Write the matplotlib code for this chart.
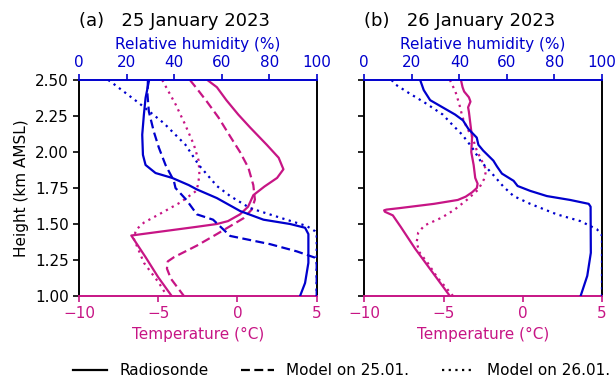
import matplotlib
matplotlib.use("Agg")
import matplotlib.pyplot as plt
import numpy as np
from matplotlib.lines import Line2D

MAG = "#c71585"
BLU = "#0000cd"

# ---------------- Panel (a): 25 January 2023 ----------------
a_rs_T_h = [2.50, 2.45, 2.36, 2.26, 2.17, 2.05, 1.96, 1.88, 1.82, 1.76, 1.70, 1.62, 1.567, 1.52, 1.50, 1.48, 1.42, 1.27, 1.13, 1.00]
a_rs_T   = [-1.9, -1.3, -0.7, 0.05, 0.8, 1.85, 2.6, 2.9, 2.5, 1.7, 1.0, 0.67, 0.16, -0.6, -1.3, -2.6, -6.7, -5.8, -5.0, -4.15]

a_m25_T_h = [2.50, 2.44, 2.35, 2.24, 2.11, 2.00, 1.89, 1.77, 1.67, 1.60, 1.54, 1.43, 1.35, 1.27, 1.24, 1.19, 1.12, 1.00]
a_m25_T   = [-3.0, -2.56, -1.93, -1.2, -0.47, 0.16, 0.69, 1.0, 1.1, 0.9, 0.38, -1.3, -2.56, -4.0, -4.4, -4.45, -4.2, -3.38]

a_m26_T_h = [2.50, 2.33, 2.19, 2.05, 1.94, 1.84, 1.77, 1.73, 1.65, 1.57, 1.51, 1.46, 1.40, 1.23, 1.09, 1.00]
a_m26_T   = [-4.75, -3.9, -3.3, -2.75, -2.45, -2.4, -2.5, -2.6, -3.6, -4.9, -5.9, -6.4, -6.55, -5.9, -4.95, -4.45]

a_rs_RH_h = [2.50, 2.375, 2.26, 2.12, 1.98, 1.91, 1.854, 1.82, 1.77, 1.74, 1.68, 1.59, 1.53, 1.50, 1.474, 1.43, 1.23, 1.09, 1.00]
a_rs_RH   = [29.5, 28.0, 27.3, 26.6, 26.9, 28.0, 32.2, 39.2, 46.2, 49.6, 58.0, 67.8, 77.6, 88.8, 95.1, 96.5, 96.5, 95.1, 93.0]

a_m25_RH_h = [2.50, 2.40, 2.28, 2.14, 2.03, 1.91, 1.80, 1.75, 1.667, 1.567, 1.53, 1.417, 1.36, 1.31, 1.266, 1.25, 1.00]
a_m25_RH   = [29.0, 28.8, 29.4, 31.5, 33.6, 36.4, 39.9, 40.6, 45.2, 49.6, 56.4, 63.6, 80.4, 91.6, 99.3, 100.0, 100.0]

a_m26_RH_h = [2.50, 2.48, 2.34, 2.20, 2.05, 1.91, 1.764, 1.694, 1.61, 1.544, 1.486, 1.45, 1.43, 1.00]
a_m26_RH   = [12.3, 14.0, 25.2, 35.7, 44.8, 50.4, 58.0, 63.6, 72.0, 84.6, 95.8, 99.3, 100.0, 100.0]

# ---------------- Panel (b): 26 January 2023 ----------------
b_rs_T_h = [2.50, 2.45, 2.42, 2.38, 2.35, 2.31, 2.28, 2.19, 2.10, 2.00, 1.91, 1.82, 1.78, 1.75, 1.72, 1.69, 1.667, 1.64, 1.61, 1.60, 1.595, 1.585, 1.56, 1.48, 1.33, 1.18, 1.00]
b_rs_T   = [-3.9, -3.8, -3.7, -3.4, -3.3, -3.45, -3.4, -3.3, -3.2, -3.25, -3.1, -3.0, -2.85, -2.9, -3.2, -3.6, -4.1, -5.6, -7.8, -8.6, -8.75, -8.7, -8.2, -7.7, -6.8, -5.8, -4.6]

b_m26_T_h = [2.50, 2.42, 2.33, 2.24, 2.16, 2.11, 2.01, 1.92, 1.875, 1.81, 1.74, 1.67, 1.60, 1.545, 1.49, 1.44, 1.37, 1.30, 1.23, 1.13, 1.00]
b_m26_T   = [-4.6, -4.25, -4.0, -3.8, -3.5, -3.2, -2.9, -2.5, -2.3, -2.45, -2.8, -3.5, -4.3, -5.1, -6.2, -6.6, -6.7, -6.5, -6.0, -5.4, -4.4]

b_rs_RH_h = [2.50, 2.43, 2.36, 2.32, 2.26, 2.22, 2.16, 2.10, 2.05, 2.01, 1.94, 1.90, 1.85, 1.80, 1.764, 1.73, 1.694, 1.667, 1.64, 1.62, 1.30, 1.14, 1.00]
b_rs_RH   = [23.5, 25.0, 27.7, 31.9, 38.2, 41.5, 43.8, 47.3, 48.0, 50.0, 54.3, 55.8, 57.9, 62.8, 64.5, 69.8, 76.8, 86.6, 94.4, 95.2, 95.3, 93.8, 91.0]

b_m26_RH_h = [2.50, 2.47, 2.41, 2.34, 2.26, 2.19, 2.12, 2.03, 1.935, 1.84, 1.76, 1.694, 1.64, 1.567, 1.52, 1.463, 1.42, 1.00]
b_m26_RH   = [11.5, 13.0, 18.7, 25.7, 33.0, 37.0, 41.2, 45.4, 49.0, 54.3, 58.5, 62.8, 69.8, 81.0, 90.9, 97.9, 100.0, 100.0]

titles = ["(a)   25 January 2023", "(b)   26 January 2023"]
y_ticks = [1.00, 1.25, 1.50, 1.75, 2.00, 2.25, 2.50]
t_ticks = [-10, -5, 0, 5]
rh_ticks = [0, 20, 40, 60, 80, 100]
legend_labels = ["Radiosonde", "Model on 25.01.", "Model on 26.01."]

plt.rcParams["font.family"] = "DejaVu Sans"
plt.rcParams["font.size"] = 11

fig = plt.figure(figsize=(6.15, 3.76), dpi=100)
LW = 1.6
dot = (0, (1, 2))
dash = (0, (4, 2))

panels = [
    dict(left=79 / 615, T=[(a_rs_T, a_rs_T_h, "-"), (a_m25_T, a_m25_T_h, dash), (a_m26_T, a_m26_T_h, dot)],
         RH=[(a_rs_RH, a_rs_RH_h, "-"), (a_m25_RH, a_m25_RH_h, dash), (a_m26_RH, a_m26_RH_h, dot)]),
    dict(left=364.3 / 615, T=[(b_rs_T, b_rs_T_h, "-"), (b_m26_T, b_m26_T_h, dot)],
         RH=[(b_rs_RH, b_rs_RH_h, "-"), (b_m26_RH, b_m26_RH_h, dot)]),
]
W = 237.7 / 615
B = 1 - 296 / 376
H = 216 / 376

for i, p in enumerate(panels):
    ax = fig.add_axes([p["left"], B, W, H])
    for x, y, ls in p["T"]:
        ax.plot(x, y, color=MAG, lw=LW, linestyle=ls)
    ax.set_xlim(-10, 5)
    ax.set_ylim(1.0, 2.5)
    ax.set_xticks(t_ticks)
    ax.set_yticks(y_ticks)
    ax.set_yticklabels([f"{v:.2f}" for v in y_ticks])
    ax.tick_params(axis="x", colors=MAG, width=1.2, length=4)
    ax.tick_params(axis="y", width=1.2, length=4)
    ax.set_xlabel("Temperature (°C)", color=MAG)
    ax.spines["bottom"].set_color(MAG)
    ax.spines["top"].set_visible(False)
    for s in ["bottom", "left", "right"]:
        ax.spines[s].set_linewidth(1.4)
    if i == 0:
        ax.set_ylabel("Height (km AMSL)")
    else:
        ax.tick_params(axis="y", labelleft=False)

    ax2 = ax.twiny()
    for x, y, ls in p["RH"]:
        ax2.plot(x, y, color=BLU, lw=LW, linestyle=ls)
    ax2.set_xlim(0, 100)
    ax2.set_xticks(rh_ticks)
    ax2.tick_params(axis="x", colors=BLU, width=1.2, length=4)
    ax2.set_xlabel("Relative humidity (%)", color=BLU)
    ax2.spines["top"].set_color(BLU)
    ax2.spines["top"].set_linewidth(1.4)
    ax2.spines["bottom"].set_visible(False)
    ax2.spines["left"].set_visible(False)
    ax2.spines["right"].set_visible(False)
    ax2.set_title(titles[i], loc="left", fontsize=13, pad=8)

handles = [Line2D([], [], color="black", lw=LW, linestyle=ls) for ls in ["-", dash, dot]]
fig.legend(handles, legend_labels, loc="center", bbox_to_anchor=(0.556, 0.015), ncol=3,
           frameon=False, handlelength=2.2, columnspacing=2.1)

fig.savefig("out.png", dpi=100)
